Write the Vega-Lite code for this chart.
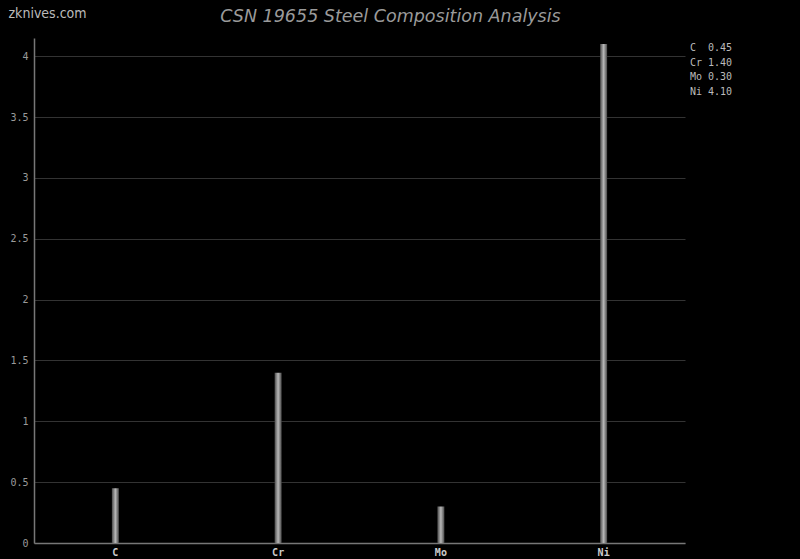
{
  "$schema": "https://vega.github.io/schema/vega-lite/v6.json",
  "width": 651,
  "height": 505,
  "autosize": {"type": "none"},
  "padding": {"left": 34, "top": 38, "right": 115, "bottom": 16},
  "background": "#000000",
  "title": {
    "text": "CSN 19655 Steel Composition Analysis",
    "font": "DejaVu Sans",
    "fontStyle": "italic",
    "fontWeight": "normal",
    "fontSize": 17.5,
    "color": "#9a9a9a",
    "anchor": "middle",
    "baseline": "alphabetic",
    "dx": 31,
    "offset": -33
  },
  "data": {
    "values": [
      {"element": "C", "value": 0.45, "label": "C\u00a0\u00a00.45"},
      {"element": "Cr", "value": 1.40, "label": "Cr\u00a01.40"},
      {"element": "Mo", "value": 0.30, "label": "Mo\u00a00.30"},
      {"element": "Ni", "value": 4.10, "label": "Ni\u00a04.10"}
    ]
  },
  "config": {
    "view": {"stroke": null},
    "axis": {
      "domainColor": "#777777",
      "domainWidth": 1.5,
      "gridColor": "#333333",
      "ticks": false,
      "labelFont": "DejaVu Sans Mono",
      "labelFontSize": 10
    }
  },
  "encoding": {
    "x": {
      "field": "element",
      "type": "nominal",
      "sort": null,
      "scale": {"paddingInner": 0, "paddingOuter": 0},
      "axis": {
        "title": null,
        "labelAngle": 0,
        "labelColor": "#cccccc",
        "labelFontWeight": "bold",
        "labelPadding": 4,
        "grid": false
      }
    },
    "y": {
      "field": "value",
      "type": "quantitative",
      "scale": {"domain": [0, 4.15], "nice": false},
      "axis": {
        "values": [0, 0.5, 1, 1.5, 2, 2.5, 3, 3.5, 4],
        "format": "~g",
        "labelColor": "#9a9a9a",
        "labelPadding": 6,
        "grid": true,
        "title": "zknives.com",
        "titleAngle": 0,
        "titleAlign": "left",
        "titleBaseline": "alphabetic",
        "titleX": -26,
        "titleY": -21,
        "titleFont": "DejaVu Sans Condensed",
        "titleFontSize": 14,
        "titleFontWeight": "normal",
        "titleColor": "#bbbbbb"
      }
    }
  },
  "layer": [
    {
      "mark": {
        "type": "bar",
        "width": 7,
        "fill": {
          "gradient": "linear",
          "x1": 0, "y1": 0, "x2": 1, "y2": 0,
          "stops": [
            {"offset": 0, "color": "#4a4a4a"},
            {"offset": 0.5, "color": "#b8b8b8"},
            {"offset": 1, "color": "#4a4a4a"}
          ]
        }
      }
    },
    {
      "mark": {"type": "point", "opacity": 0},
      "encoding": {
        "color": {
          "field": "label",
          "type": "nominal",
          "sort": null,
          "scale": {"range": ["#cccccc", "#cccccc", "#cccccc", "#cccccc"]},
          "legend": {
            "title": null,
            "orient": "none",
            "legendX": 646,
            "legendY": 5,
            "padding": 0,
            "symbolSize": 0,
            "symbolOpacity": 0,
            "symbolStrokeWidth": 0,
            "labelOffset": 0,
            "labelFont": "DejaVu Sans Mono",
            "labelFontSize": 10,
            "labelColor": "#bbbbbb",
            "rowPadding": 4.7
          }
        }
      }
    }
  ]
}
